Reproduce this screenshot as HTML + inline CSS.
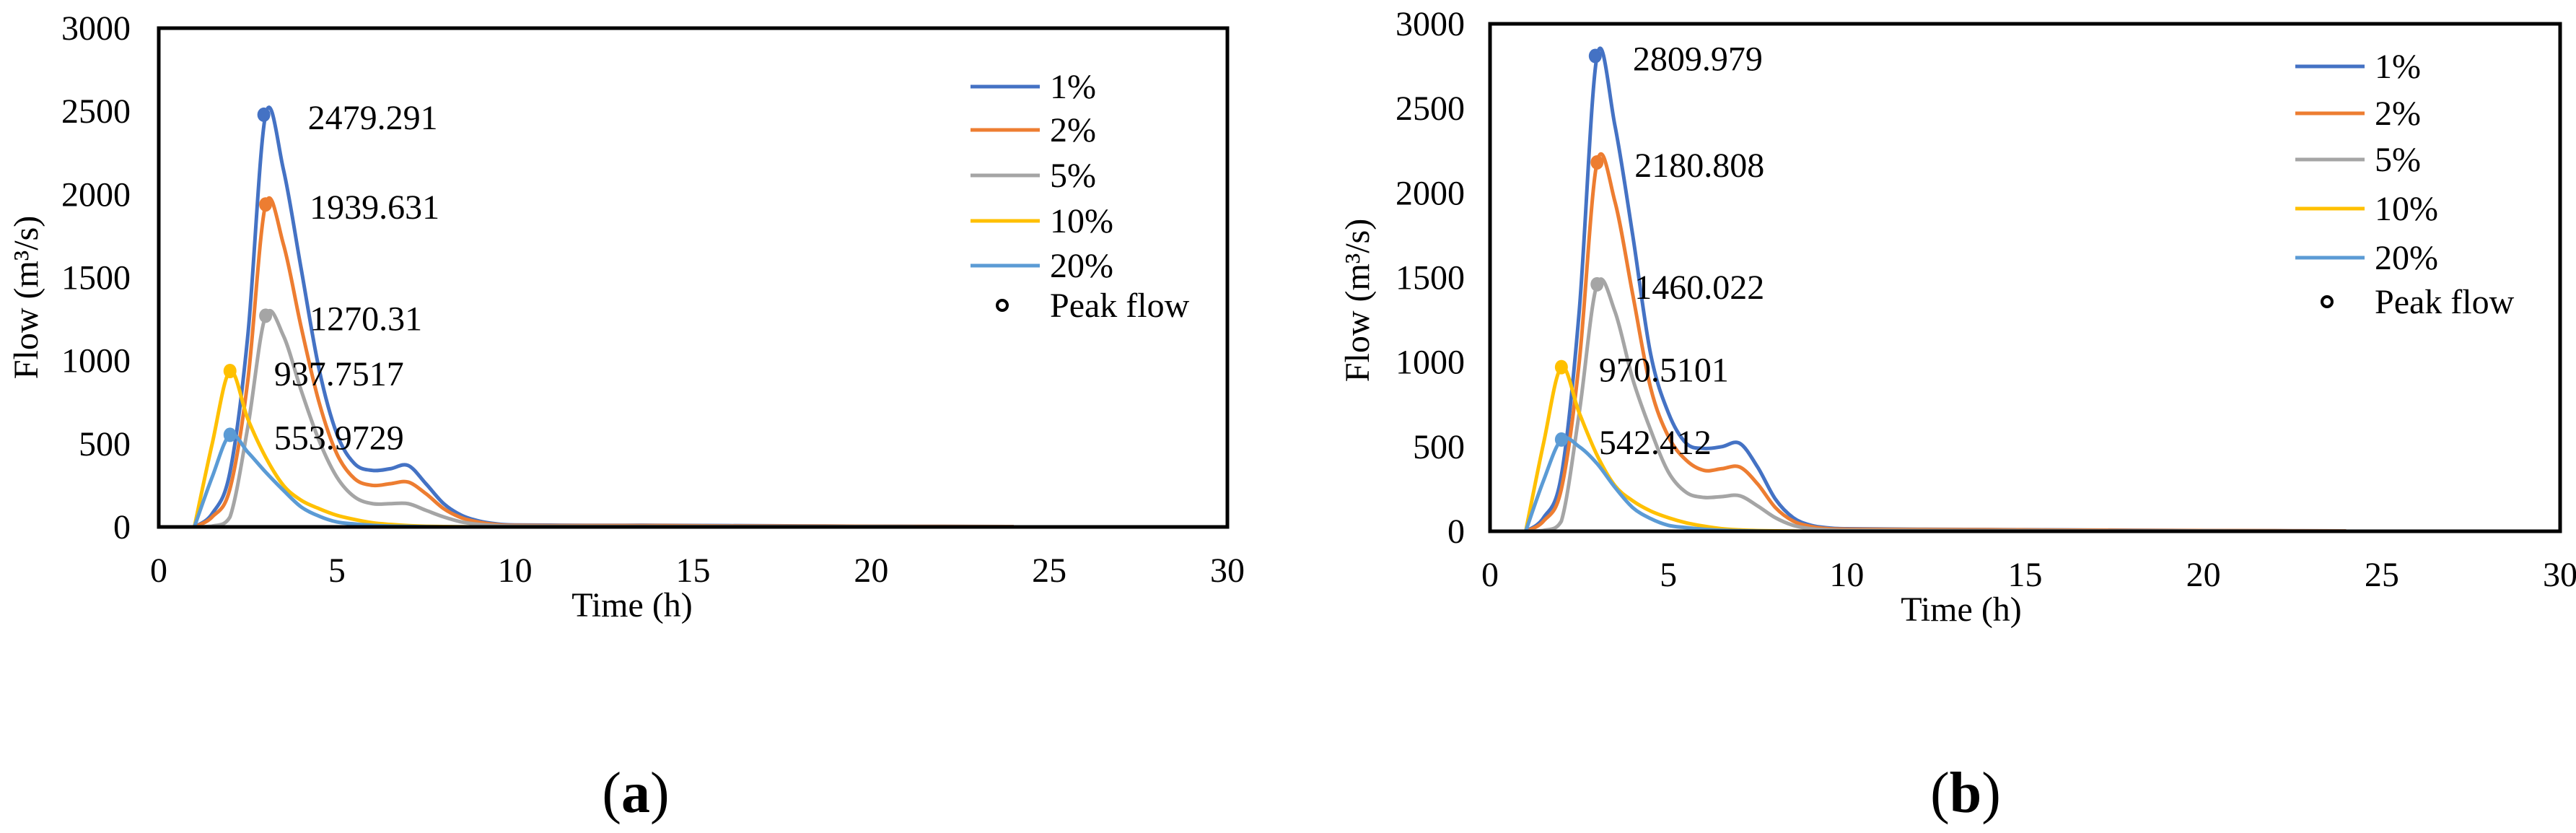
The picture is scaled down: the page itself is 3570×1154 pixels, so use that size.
<!DOCTYPE html>
<html><head><meta charset="utf-8"><style>
html,body{margin:0;padding:0;background:#fff;}
svg, svg text{font-family:"Liberation Serif","Times New Roman",serif;}
</style></head><body>
<svg id="svg" width="3570" height="1149" viewBox="0 0 3570 1149"></svg>
<script>
const times = [1,1.5,2,2.5,3,3.5,4,4.5,5,5.5,6,6.5,7,7.5,8,8.5,9,9.5,10,12,14,16,18,20,22,24];
const seriesNames = ["1%","2%","5%","10%","20%"];
const aP1 = [0,80,330,1150,2479,2150,1550,950,560,380,340,350,370,260,140,70,35,18,12,10,10,8,6,4,3,2];
const aP2 = [0,60,230,880,1939,1700,1200,750,440,290,250,260,270,200,110,55,28,14,9,8,8,6,5,4,3,2];
const aP5 = [0,5,60,600,1270,1150,820,520,300,180,140,140,140,100,60,30,15,8,5,4,3,3,2,2,1,1];
const aP10 = [0,500,937,650,420,250,160,110,70,45,25,15,8,4,2,1,0,0,0,0,0,0,0,0,0,0];
const aP20 = [0,300,554,450,330,220,120,65,30,18,10,5,3,1,0,0,0,0,0,0,0,0,0,0,0,0];
const bP1 = [0,80,330,1300,2810,2400,1750,1050,700,520,490,500,520,380,190,80,35,20,15,12,10,8,6,4,3,2];
const bP2 = [0,60,250,1000,2181,1950,1400,850,560,420,360,370,380,280,140,60,28,15,12,10,9,7,5,4,3,2];
const bP5 = [0,5,60,700,1460,1300,900,600,350,230,200,205,210,150,80,35,15,8,6,5,4,3,2,2,1,1];
const bP10 = [0,520,970,700,450,270,180,120,80,50,30,15,8,4,2,1,0,0,0,0,0,0,0,0,0,0];
const bP20 = [0,300,542,500,400,260,140,75,35,22,12,6,3,1,0,0,0,0,0,0,0,0,0,0,0,0];
const peakTimesA = [2.95,3,3,2,2];
const peakValsA = [2479.291,1939.631,1270.31,937.7517,553.9729];
const peakLabelsA = ["2479.291","1939.631","1270.31","937.7517","553.9729"];
const peakTimesB = [2.95,3,3,2,2];
const peakValsB = [2809.979,2180.808,1460.022,970.5101,542.412];
const peakLabelsB = ["2809.979","2180.808","1460.022","970.5101","542.412"];
const xTicks = [0,5,10,15,20,25,30];
const yTicks = [0,500,1000,1500,2000,2500,3000];
const colors = ["#4472C4","#ED7D31","#A5A5A5","#FFC000","#5B9BD5"];

const NS="http://www.w3.org/2000/svg";
const svg=document.getElementById('svg');
const FF='Liberation Serif, Times New Roman, serif';
function mk(tag,attrs,parent){const e=document.createElementNS(NS,tag);for(const k in attrs)e.setAttribute(k,attrs[k]);if(tag==='text')e.setAttribute('font-family',FF);(parent||svg).appendChild(e);return e;}

function chart(cfg){
  const g=mk('g',{});
  
  
  const X=t=>cfg.x0+(t/30)*(cfg.x1-cfg.x0);
  const Y=v=>cfg.y0-(v/3000)*(cfg.y0-cfg.y1);
  yTicks.forEach(v=>{const t=mk('text',{x:cfg.ylx,y:Y(v)+16,'font-size':48,'text-anchor':'end'},g);t.textContent=v;
    
    });
  xTicks.forEach(v=>{const t=mk('text',{x:X(v),y:cfg.y0+76,'font-size':48,'text-anchor':'middle'},g);t.textContent=v;
    
    });
  cfg.data.forEach((arr,i)=>{
    const pts=times.map((t,j)=>[X(t),Y(arr[j])]);
    let d='M'+pts[0][0]+','+pts[0][1];
    for(let j=0;j<pts.length-1;j++){
      const p0=pts[Math.max(0,j-1)],p1=pts[j],p2=pts[j+1],p3=pts[Math.min(pts.length-1,j+2)];
      const c1=[p1[0]+(p2[0]-p0[0])/6,Math.min(cfg.y0,p1[1]+(p2[1]-p0[1])/6)];
      const c2=[p2[0]-(p3[0]-p1[0])/6,Math.min(cfg.y0,p2[1]-(p3[1]-p1[1])/6)];
      d+=' C'+c1[0]+','+c1[1]+' '+c2[0]+','+c2[1]+' '+p2[0]+','+p2[1];
    }
    const p=mk('path',{d:d,fill:'none',stroke:colors[i],'stroke-width':5,'stroke-linejoin':'round'},g);
    
    
  });
  const f=mk('rect',{x:cfg.x0,y:cfg.y1,width:cfg.x1-cfg.x0,height:cfg.y0-cfg.y1,fill:'none',stroke:'#000','stroke-width':5},g);
  
  
  cfg.pt.forEach((t,i)=>{
    const c=mk('ellipse',{cx:X(t),cy:Y(cfg.pv[i]),rx:9,ry:10,fill:colors[i]},g);
    
    
    const tx=mk('text',{x:X(t)+cfg.lblDx,y:Y(cfg.pv[i])+20,'font-size':48},g);
    tx.textContent=cfg.pl[i];
    
    
  });
  cfg.legY.forEach((y,i)=>{
    if(i<5){const l=mk('line',{x1:cfg.legX,x2:cfg.legX+96,y1:y,y2:y,stroke:colors[i],'stroke-width':5},g);
      
      }
    else{const c=mk('circle',{cx:cfg.legX+44,cy:y,r:7,fill:'none',stroke:'#000','stroke-width':4},g);
      
      }
    const t=mk('text',{x:cfg.legX+110,y:y+16,'font-size':48},g);
    t.textContent=i<5?seriesNames[i]:'Peak flow';
    
    
  });
  const xt=mk('text',{x:cfg.xtX,y:cfg.y0+124,'font-size':48,'text-anchor':'middle'},g);
  xt.textContent='Time (h)';
  
  
  const yt=mk('text',{x:0,y:0,'font-size':48,'text-anchor':'middle',transform:'translate('+(cfg.ytX)+','+cfg.ytY+') rotate(-90)'},g);
  yt.textContent='Flow (m³/s)';
  
  
  const cap=mk('text',{x:cfg.capX,y:1125,'font-size':80,'text-anchor':'middle'},g);
  cap.innerHTML='(<tspan font-weight="bold">'+cfg.cap+'</tspan>)';
  
  
}
chart({name:'chart-a',x0:220,x1:1701,y0:730,y1:39,ylx:181,data:[aP1,aP2,aP5,aP10,aP20],pt:peakTimesA,pv:peakValsA,pl:peakLabelsA,lblDx:61,
  legX:1345,legY:[120,180,243,306,368,423],xtX:876,ytX:52,ytY:412,capX:881,cap:'a'});
chart({name:'chart-b',x0:2065,x1:3548,y0:736,y1:33,ylx:2030,data:[bP1,bP2,bP5,bP10,bP20],pt:peakTimesB,pv:peakValsB,pl:peakLabelsB,lblDx:52,
  legX:3181,legY:[92,157,221,289,357,418],xtX:2718,ytX:1897,ytY:416,capX:2724,cap:'b'});
</script>
</body></html>
